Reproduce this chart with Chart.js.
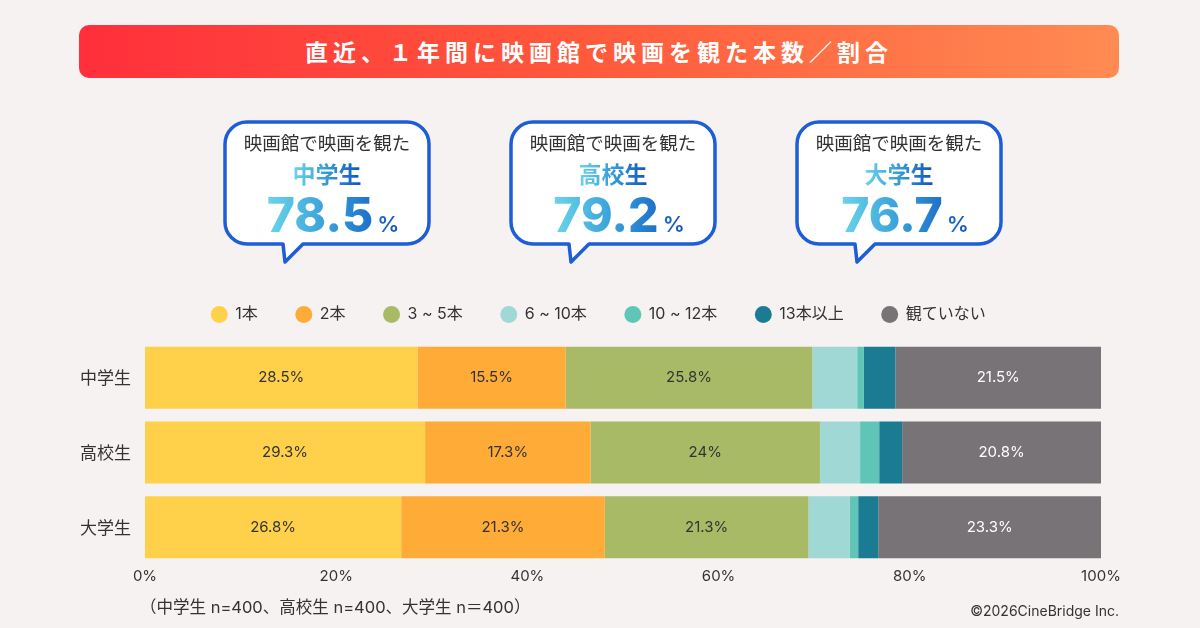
<!DOCTYPE html>
<html lang="ja">
<head>
  <meta charset="UTF-8">
  <title>直近、１年間に映画館で映画を観た本数／割合</title>
  <script src="https://cdn.jsdelivr.net/npm/chart.js"></script>
  <style>
    html, body {
      margin: 0;
      padding: 0;
    }
    body {
      width: 1200px;
      height: 628px;
      background: #f5f2f1;
      position: relative;
      overflow: hidden;
      font-family: Inter, "Noto Sans CJK JP", sans-serif;
      color: #333;
    }
    .title {
      position: absolute;
      left: 79px;
      top: 25px;
      width: 1040px;
      height: 53px;
      border-radius: 10px;
      background: linear-gradient(90deg, #ff2f3b 0%, #ff5a3c 50%, #ff8b52 100%);
      color: #fff;
      font-family: "Noto Sans CJK JP", sans-serif;
      font-weight: 700;
      font-size: 23px;
      letter-spacing: 5px;
      line-height: 53px;
      text-align: center;
    }
    .bubble {
      position: absolute;
      top: 122px;
      width: 204px;
      height: 145px;
    }
    .bubble svg {
      position: absolute;
      left: -3px;
      top: -3px;
    }
    .bubble .lead {
      position: absolute;
      left: 0;
      width: 204px;
      top: 8px;
      text-align: center;
      font-family: "Noto Sans CJK JP", sans-serif;
      font-size: 18.5px;
      line-height: 24px;
      color: #333;
    }
    .bubble .who {
      position: absolute;
      left: 0;
      width: 204px;
      top: 36px;
      text-align: center;
      font-family: "Noto Sans CJK JP", sans-serif;
      font-weight: 700;
      font-size: 23px;
      line-height: 30px;
    }
    .grad {
      background: linear-gradient(90deg, #6ad6ea 0%, #2f94d6 55%, #1250c0 100%);
      -webkit-background-clip: text;
      background-clip: text;
      color: transparent;
    }
    .bubble .num {
      position: absolute;
      left: 6px;
      width: 204px;
      top: 63px;
      text-align: center;
      font-weight: 800;
      font-size: 48px;
      line-height: 60px;
      white-space: nowrap;
    }
    .bubble .num span.pct {
      font-size: 22px;
      font-weight: 600;
      margin-left: 4px;
    }
    .note {
      position: absolute;
      left: 140px;
      top: 594px;
      font-size: 16.5px;
      color: #333;
    }
    .copy {
      position: absolute;
      right: 81px;
      top: 602px;
      font-size: 14px;
      color: #333;
    }
    #chart {
      position: absolute;
      left: 0;
      top: 0;
    }
  </style>
</head>
<body>

  <canvas id="chart" width="1200" height="628"></canvas>

  <div class="title">直近、１年間に映画館で映画を観た本数／割合</div>

  <div class="bubble" style="left:225px">
    <svg width="212" height="152"><path d="M25 3 H185 A22 22 0 0 1 207 25 V103 A22 22 0 0 1 185 125 H81 L63 143 L61 125 H25 A22 22 0 0 1 3 103 V25 A22 22 0 0 1 25 3 Z" fill="#fff" stroke="#1d5dd8" stroke-width="3.5" stroke-linejoin="round"/></svg>
    <div class="lead">映画館で映画を観た</div>
    <div class="who"><span class="grad">中学生</span></div>
    <div class="num"><span class="grad">78.5<span class="pct">%</span></span></div>
  </div>

  <div class="bubble" style="left:511px">
    <svg width="212" height="152"><path d="M25 3 H185 A22 22 0 0 1 207 25 V103 A22 22 0 0 1 185 125 H81 L63 143 L61 125 H25 A22 22 0 0 1 3 103 V25 A22 22 0 0 1 25 3 Z" fill="#fff" stroke="#1d5dd8" stroke-width="3.5" stroke-linejoin="round"/></svg>
    <div class="lead">映画館で映画を観た</div>
    <div class="who"><span class="grad">高校生</span></div>
    <div class="num"><span class="grad">79.2<span class="pct">%</span></span></div>
  </div>

  <div class="bubble" style="left:797px">
    <svg width="212" height="152"><path d="M25 3 H185 A22 22 0 0 1 207 25 V103 A22 22 0 0 1 185 125 H81 L63 143 L61 125 H25 A22 22 0 0 1 3 103 V25 A22 22 0 0 1 25 3 Z" fill="#fff" stroke="#1d5dd8" stroke-width="3.5" stroke-linejoin="round"/></svg>
    <div class="lead">映画館で映画を観た</div>
    <div class="who"><span class="grad">大学生</span></div>
    <div class="num"><span class="grad">76.7<span class="pct">%</span></span></div>
  </div>

  <div class="note">（中学生 n=400、高校生 n=400、大学生 n＝400）</div>
  <div class="copy">©2026CineBridge Inc.</div>

  <script>
    // データ
    const groups = ['中学生', '高校生', '大学生'];
    const seriesNames = ['1本', '2本', '3 ~ 5本', '6 ~ 10本', '10 ~ 12本', '13本以上', '観ていない'];
    const v1 = [28.5, 29.3, 26.8];
    const v2 = [15.5, 17.3, 21.3];
    const v3to5 = [25.8, 24, 21.3];
    const v6to10 = [4.7, 4.2, 4.3];
    const v10to12 = [0.7, 2.0, 0.9];
    const v13plus = [3.3, 2.4, 2.1];
    const vNone = [21.5, 20.8, 23.3];
    const xTicks = [0, 20, 40, 60, 80, 100];

    const colors = ['#ffd04a', '#ffab38', '#a9ba67', '#9fd8d4', '#5fc6b7', '#1b7b92', '#787377'];
    const allValues = [v1, v2, v3to5, v6to10, v10to12, v13plus, vNone];

    const LEGEND_SHIFT = -8;
    const LEGEND_DX = 48;

    // 棒の中に数値を書く
    const barLabels = {
      id: 'barLabels',
      afterDatasetsDraw(chart) {
        const ctx = chart.ctx;
        ctx.save();
        ctx.font = '15px Inter, "Noto Sans CJK JP", sans-serif';
        ctx.textAlign = 'center';
        ctx.textBaseline = 'middle';
        chart.data.datasets.forEach((ds, i) => {
          chart.getDatasetMeta(i).data.forEach((bar, j) => {
            const v = ds.data[j];
            if (v < 10) return;
            ctx.fillStyle = i === 6 ? '#ffffff' : '#333333';
            ctx.fillText(v + '%', (bar.x + bar.base) / 2, bar.y);
          });
        });
        ctx.restore();
      }
    };

    // 凡例の位置調整
    const legendNudge = {
      id: 'legendNudge',
      afterLayout(chart) {
        chart.legend.top += LEGEND_SHIFT;
        chart.legend.bottom += LEGEND_SHIFT;
        chart.legend.left += LEGEND_DX;
        chart.legend.right += LEGEND_DX;
      }
    };

    const chart = new Chart(document.getElementById('chart'), {
      type: 'bar',
      data: {
        labels: groups,
        datasets: seriesNames.map((name, i) => ({
          label: name,
          data: allValues[i],
          backgroundColor: colors[i],
          borderWidth: 0,
          barPercentage: 0.83,
          categoryPercentage: 1
        }))
      },
      options: {
        indexAxis: 'y',
        responsive: false,
        animation: false,
        layout: {
          padding: { top: 276.5, left: 0, right: 99, bottom: 33.5 }
        },
        plugins: {
          legend: {
            position: 'top',
            labels: {
              usePointStyle: true,
              pointStyle: 'circle',
              boxHeight: 12,
              padding: 38,
              color: '#333',
              font: { size: 16, family: 'Inter, "Noto Sans CJK JP", sans-serif' }
            }
          },
          tooltip: { enabled: false }
        },
        scales: {
          x: {
            stacked: true,
            min: 0,
            max: 100,
            afterBuildTicks(scale) {
              scale.ticks = xTicks.map(v => ({ value: v }));
            },
            afterFit(scale) { scale.height = 30; },
            grid: { display: false, drawTicks: false },
            border: { display: false },
            ticks: {
              padding: 3,
              color: '#333',
              font: { size: 15, family: 'Inter, sans-serif' },
              callback: v => v + '%'
            }
          },
          y: {
            stacked: true,
            afterFit(scale) { scale.width = 145; },
            grid: { display: false, drawTicks: false },
            border: { display: false },
            ticks: {
              padding: 14,
              color: '#333',
              font: { size: 17, family: '"Noto Sans CJK JP", sans-serif' }
            }
          }
        }
      },
      plugins: [barLabels, legendNudge]
    });
  </script>

</body>
</html>
